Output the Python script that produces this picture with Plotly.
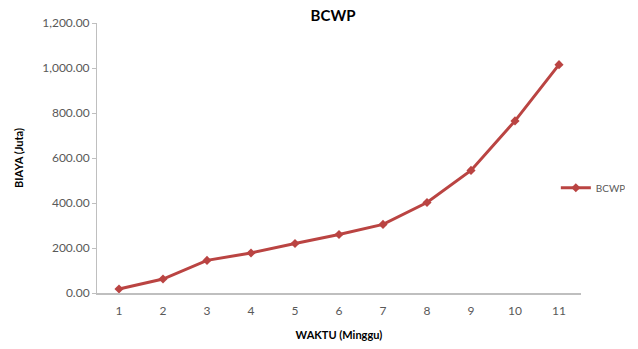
import plotly.graph_objects as go

# Weekly cumulative earned value (BCWP), in millions of rupiah
weeks = [1, 2, 3, 4, 5, 6, 7, 8, 9, 10, 11]
bcwp = [18, 62, 145, 178, 220, 260, 305, 402, 545, 765, 1015]
y_ticks = [0, 200, 400, 600, 800, 1000, 1200]

FONT = "Lato"
GREY = "#595959"
RED = "#BA4442"

fig = go.Figure()
fig.add_trace(go.Scatter(
    x=weeks, y=bcwp, name="BCWP", mode="lines+markers",
    line=dict(color=RED, width=3),
    marker=dict(symbol="diamond", size=7, color=RED),
))

fig.update_layout(
    width=638, height=349,
    margin=dict(l=97, r=57, t=23, b=56),
    paper_bgcolor="white", plot_bgcolor="white",
    font=dict(family=FONT, size=11, color=GREY),
    title=dict(text="<b>BCWP</b>", x=0.522, xanchor="center", y=0.955, yanchor="middle",
               font=dict(family=FONT, size=15, color="black")),
    showlegend=True,
    legend=dict(orientation="h", entrywidth=24, entrywidthmode="pixels",
                x=0.948, xanchor="left", y=0.39, yanchor="middle",
                font=dict(family=FONT, size=10, color=GREY),
                bgcolor="rgba(0,0,0,0)", itemwidth=30),
    xaxis=dict(
        range=[0.5, 11.5], tickmode="array", tickvals=weeks, automargin=False,
        showgrid=False, zeroline=False, showline=True, linecolor="#BFBFBF", linewidth=2,
        ticks="", ticklabelstandoff=6, tickfont=dict(size=12, color=GREY),
        title=dict(text="<b>WAKTU (Minggu)</b>", standoff=14,
                   font=dict(family=FONT, size=11, color="black")),
    ),
    yaxis=dict(
        range=[0, 1200], tickmode="array", tickvals=y_ticks, tickformat=",.2f", automargin=False,
        showgrid=False, zeroline=False, showline=True, linecolor="#BFBFBF", linewidth=1,
        ticks="outside", ticklen=4, tickcolor="#BFBFBF", tickfont=dict(size=12, color=GREY),
        title=dict(text="<b>BIAYA (Juta)</b>", standoff=16,
                   font=dict(family=FONT, size=11, color="black")),
    ),
)

fig.write_html("out.html")
